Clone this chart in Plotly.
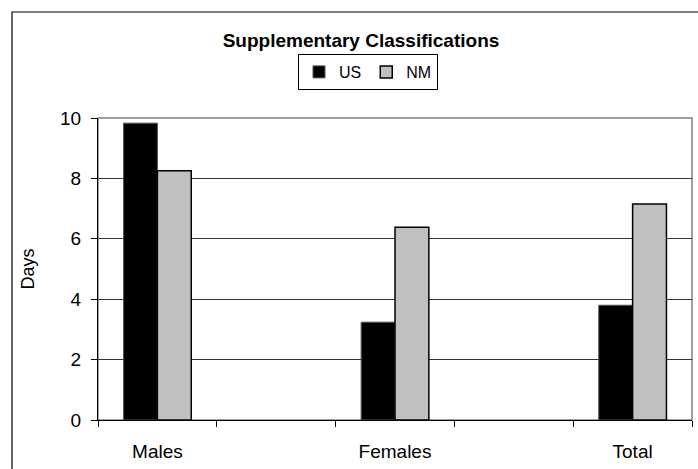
import plotly.graph_objects as go

categories = ["Males", " ", "Females", "  ", "Total"]
us_values = [9.83, None, 3.24, None, 3.8]
nm_values = [8.25, None, 6.38, None, 7.15]
y_ticks = [0, 2, 4, 6, 8, 10]

FONT = "Arial, Liberation Sans, sans-serif"

fig = go.Figure()
fig.add_trace(go.Bar(x=categories, y=us_values, name="US",
                     marker=dict(color="#000000", line=dict(color="#555555", width=1))))
fig.add_trace(go.Bar(x=categories, y=nm_values, name="NM",
                     marker=dict(color="#C0C0C0", line=dict(color="#000000", width=1.5))))

fig.update_layout(
    width=698, height=469,
    margin=dict(l=98, r=6, t=118, b=49),
    paper_bgcolor="white", plot_bgcolor="white",
    font=dict(family=FONT, color="black", size=18),
    barmode="group", bargap=0.43, bargroupgap=0,
    title=dict(text="<b>Supplementary Classifications</b>", font=dict(size=19, family=FONT),
               x=361/698, xanchor="center", xref="container",
               y=1 - 40/469, yanchor="middle", yref="container"),
    legend=dict(orientation="h", x=(368-98)/594, xanchor="center",
                y=(420-54)/302, yanchor="top",
                bordercolor="black", borderwidth=1, bgcolor="white",
                font=dict(size=16, family=FONT), itemwidth=30,
                tracegroupgap=0),
    showlegend=True,
    shapes=[
        dict(type="rect", xref="paper", yref="paper", x0=0, x1=1, y0=0, y1=1,
             line=dict(color="#808080", width=1.5), layer="below"),
        dict(type="rect", xref="paper", yref="paper",
             x0=(12-98)/594, x1=1.2, y0=-0.5, y1=(420-12)/302,
             line=dict(color="black", width=1.2), fillcolor="rgba(0,0,0,0)", layer="below"),
    ],
)

fig.update_xaxes(type="category", categoryorder="array", categoryarray=categories,
                 showline=True, linecolor="black", linewidth=1,
                 ticks="outside", ticklen=6, tickcolor="black", tickson="boundaries",
                 showgrid=False, ticklabelstandoff=14,
                 tickfont=dict(size=19, family=FONT))
fig.update_yaxes(range=[0, 10], tickvals=y_ticks,
                 showline=True, linecolor="black", linewidth=1,
                 ticks="outside", ticklen=6, tickcolor="black",
                 showgrid=True, gridcolor="#333333", gridwidth=1,
                 zeroline=False, ticklabelstandoff=6,
                 tickfont=dict(size=19, family=FONT),
                 title=dict(text="Days", font=dict(size=18, family=FONT), standoff=20))

fig.write_html("out.html", config={"displayModeBar": False},
               post_script="document.body.style.margin='0';")
